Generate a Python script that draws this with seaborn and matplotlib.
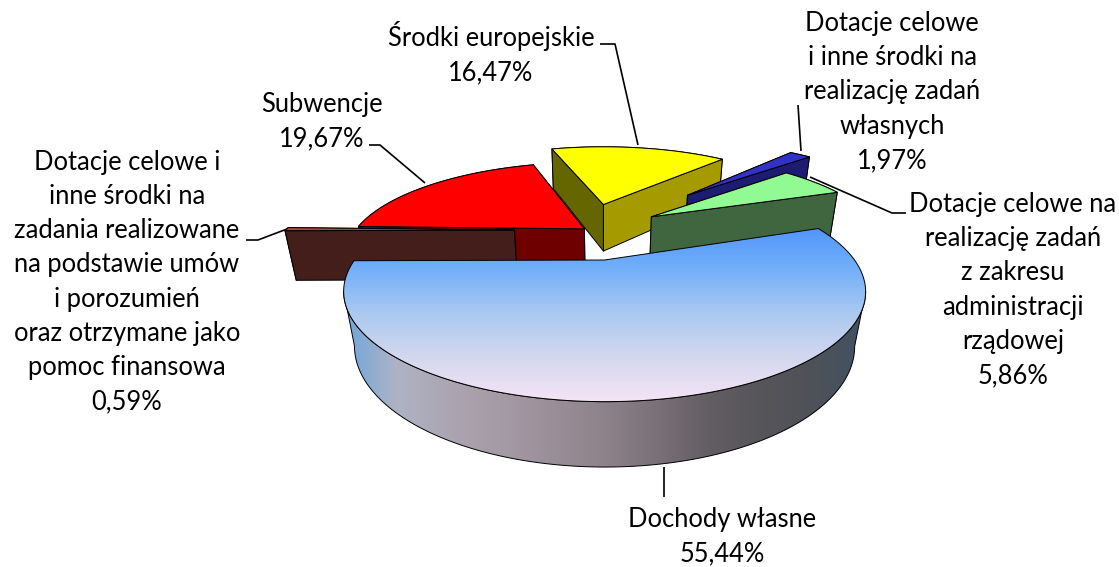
import numpy as np
import matplotlib
matplotlib.use("Agg")
import matplotlib.pyplot as plt
from matplotlib.patches import Polygon
import seaborn as sns

# ---- data -------------------------------------------------------------
names = ["Dochody własne",
         "Dotacje celowe i\ninne środki na\nzadania realizowane\nna podstawie umów\ni porozumień\noraz otrzymane jako\npomoc finansowa",
         "Subwencje",
         "Środki europejskie",
         "Dotacje celowe\ni inne środki na\nrealizację zadań\nwłasnych",
         "Dotacje celowe na\nrealizację zadań\nz zakresu\nadministracji\nrządowej"]
values = [55.44, 0.59, 19.67, 16.47, 1.97, 5.86]

# ---- style ------------------------------------------------------------
explode = [0.325, 0.33, 0.03, 0.34, 0.663, 0.33]
nudge_u = [0.006, 0.0, 0.0, -0.012, 0.0, -0.006]
top_col = [None, "#b04545", "#ff0000", "#ffff00", "#3232c8", "#92fa92"]
face_a = [None, "#441e1b", "#6e0000", "#666600", "#1c1c73", "#40663f"]  # face at wedge start
face_b = [None, "#441e1b", "#6e0000", "#a59b00", "#1c1c73", "#40663f"]  # face at wedge end
draw_order = [3, 4, 2, 1, 5, 0]
label_xy = [(722, 537), (127, 282), (322, 122), (491, 53), (892, 92), (1013, 290)]
leaders = [[(664, 467), (664, 497)],
           [(246, 240), (258, 240), (287, 229)],
           [(369, 145), (380, 145), (425, 183)],
           [(600, 44), (615, 44), (638, 145)],
           [(798, 105), (801, 151)],
           [(810, 177), (892, 213), (906, 213)]]
top_grad = ["#4f94f8", "#74b0fa", "#acc9f0", "#d4d8ee", "#f5e4f5"]
rim_grad = ["#6fa6dc", "#aeb3c4", "#aca5b2", "#a59aa5", "#9a8f98", "#8d8289",
            "#7a7078", "#625d63", "#56555a", "#4f5158", "#3f5264"]

OX, OY, A, B, D, K, M = 603, 260, 250, 101, 54.9, 0.287, 0.04
START = 20.0

sns.set_theme(style="white")
plt.rcParams["font.family"] = ["Lato", "DejaVu Sans"]

fig = plt.figure(figsize=(11.19, 5.67), dpi=100)
ax = fig.add_axes([0, 0, 1, 1])


def project(u, v, z):
    w = 1 - K * v + M * z
    return np.column_stack([OX + A * u / w, OY + (B * v + D * z) / w])


spans = np.array(values) / sum(values) * 360
ends = START - np.cumsum(spans)
starts = ends + spans
mids = np.radians((starts + ends) / 2)
dirs = np.column_stack([np.cos(mids), -np.sin(mids)])  # v grows toward the viewer
offsets = dirs * np.array(explode)[:, None]
offsets = offsets - offsets[0]
offsets[:, 0] += np.array(nudge_u)


def wedge(i):
    th = np.radians(np.linspace(starts[i], ends[i], max(int(spans[i] * 2), 4)))
    return offsets[i][0] + np.cos(th), offsets[i][1] - np.sin(th)


def poly(pts, fc, z):
    p = Polygon(pts, closed=True, fc=fc, ec="black", lw=0.7, zorder=z, joinstyle="round")
    ax.add_patch(p)
    return p


for pts in leaders:
    arr = np.array(pts)
    ax.plot(arr[:, 0], arr[:, 1], color="black", lw=1.2, zorder=5, solid_capstyle="butt")

for rank, i in enumerate(draw_order):
    z = 10 + rank * 5
    uu, vv = wedge(i)
    cu, cv = offsets[i]
    apex_t, apex_b = project(np.array([cu]), np.array([cv]), 0), project(np.array([cu]), np.array([cv]), 1)
    top_arc, bot_arc = project(uu, vv, 0), project(uu, vv, 1)
    if i == 0:
        # visible rim: between the left-most and right-most points of each arc
        r_t, l_t = np.argmax(top_arc[:, 0]), np.argmin(top_arc[:, 0])
        r_b, l_b = np.argmax(bot_arc[:, 0]), np.argmin(bot_arc[:, 0])
        rim = np.vstack([top_arc[r_t:l_t + 1], bot_arc[r_b:l_b + 1][::-1]])
        p = poly(rim, "none", z + 1)
        cols = np.array(sns.blend_palette(rim_grad, n_colors=256))[None, :, :]
        im = ax.imshow(cols, extent=(344, 868, 480, 220), aspect="auto", zorder=z, interpolation="bilinear")
        im.set_clip_path(p)
        t = poly(np.vstack([apex_t, top_arc]), "none", z + 3)
        cols = np.array(sns.blend_palette(top_grad, n_colors=256))[:, None, :]
        im2 = ax.imshow(cols, extent=(340, 870, 402, 226), aspect="auto", zorder=z + 2, interpolation="bilinear")
        im2.set_clip_path(t)
    else:
        rim = np.vstack([top_arc, bot_arc[::-1]])
        poly(rim, face_a[i], z)
        a_face = np.vstack([apex_t, top_arc[:1], bot_arc[:1], apex_b])
        b_face = np.vstack([apex_t, top_arc[-1:], bot_arc[-1:], apex_b])
        # the radial face whose outer corner is nearer the viewer goes last
        if vv[0] > vv[-1]:
            poly(b_face, face_b[i], z + 1)
            poly(a_face, face_a[i], z + 2)
        else:
            poly(a_face, face_a[i], z + 1)
            poly(b_face, face_b[i], z + 2)
        poly(np.vstack([apex_t, top_arc]), top_col[i], z + 3)

for name, val, (x, y) in zip(names, values, label_xy):
    txt = name + "\n" + f"{val:.2f}".replace(".", ",") + "%"
    ax.text(x, y, txt, ha="center", va="center", fontsize=18.4, color="black",
            linespacing=1.46, zorder=60)

ax.set_xlim(0, 1119)
ax.set_ylim(567, 0)
ax.axis("off")
fig.savefig("out.png", dpi=100, facecolor="white")
